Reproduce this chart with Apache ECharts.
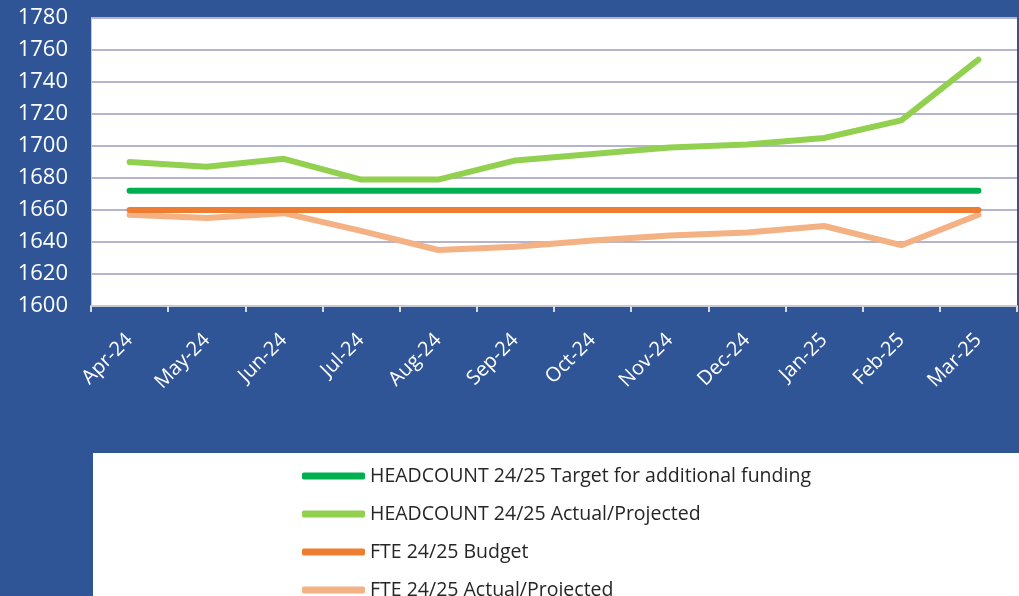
<!DOCTYPE html>
<html>
<head>
<meta charset="utf-8">
<script src="https://cdn.jsdelivr.net/npm/echarts@6/dist/echarts.min.js"></script>
<style>
  html, body { margin: 0; padding: 0; background: #2F5597; }
  #chart { width: 1019px; height: 596px; }
</style>
</head>
<body>
<div id="chart"></div>
<script>
// months on the x axis
var months = ["Apr-24", "May-24", "Jun-24", "Jul-24", "Aug-24", "Sep-24",
  "Oct-24", "Nov-24", "Dec-24", "Jan-25", "Feb-25", "Mar-25"];

var headcountTarget = [1672, 1672, 1672, 1672, 1672, 1672, 1672, 1672, 1672, 1672, 1672, 1672];
var headcountActual = [1690, 1687, 1692, 1679, 1679, 1691, 1695, 1699, 1701, 1705, 1716, 1754];
var fteBudget = [1660, 1660, 1660, 1660, 1660, 1660, 1660, 1660, 1660, 1660, 1660, 1660];
var fteActual = [1657, 1655, 1658, 1647, 1635, 1637, 1641, 1644, 1646, 1650, 1638, 1657];

var seriesNames = [
  "HEADCOUNT 24/25 Target for additional funding",
  "HEADCOUNT 24/25 Actual/Projected",
  "FTE 24/25 Budget",
  "FTE 24/25 Actual/Projected"
];
var seriesColors = ["#00B050", "#92D050", "#ED7D31", "#F4B183"];
var seriesData = [headcountTarget, headcountActual, fteBudget, fteActual];

var font = "'Open Sans', 'Noto Sans', sans-serif";

// build one line per series
var series = [];
for (var i = 0; i < seriesNames.length; i++) {
  series.push({
    name: seriesNames[i],
    type: "line",
    data: seriesData[i],
    symbol: "none",
    lineStyle: { width: 6, color: seriesColors[i], cap: "round", join: "round" },
    itemStyle: { color: seriesColors[i] }
  });
}
// draw order: budget/target above the light lines like the picture
series[0].z = 4; series[1].z = 3; series[2].z = 5; series[3].z = 2;

var myChart = echarts.init(document.getElementById("chart"));
var option = {
  backgroundColor: "#2F5597",
  animation: false,
  graphic: [
    {
      type: "rect",
      left: 93, top: 453,
      shape: { width: 926, height: 150 },
      style: { fill: "#ffffff" },
      z: 0
    }
  ],
  grid: {
    left: 91, top: 18, right: 2, bottom: 290,
    show: true, backgroundColor: "#ffffff", borderWidth: 0
  },
  legend: {
    orient: "vertical",
    left: 297, top: 461,
    height: 300,
    icon: "roundRect",
    itemWidth: 63, itemHeight: 7,
    itemGap: 18,
    textStyle: { color: "#262626", fontSize: 19.5, fontFamily: font, lineHeight: 20 },
    data: seriesNames
  },
  xAxis: {
    type: "category",
    data: months,
    boundaryGap: true,
    axisLine: { show: true, lineStyle: { color: "#C8C8D4", width: 2 } },
    axisTick: { show: true, length: 6, lineStyle: { color: "#D9D9E6", width: 2 } },
    axisLabel: { color: "#ffffff", fontSize: 20, fontFamily: font, rotate: 45, margin: 31, interval: 0 }
  },
  yAxis: {
    type: "value",
    min: 1600, max: 1780, interval: 20,
    axisLine: { show: true, lineStyle: { color: "#C8C8D4", width: 1 } },
    axisTick: { show: false },
    axisLabel: {
      color: "#ffffff", fontSize: 22, fontFamily: font, margin: 23,
      formatter: function (v) { return String(v); }
    },
    splitLine: { show: true, lineStyle: { color: "#B4B4CA", width: 2 } }
  },
  series: series
};
myChart.setOption(option);
</script>
</body>
</html>
